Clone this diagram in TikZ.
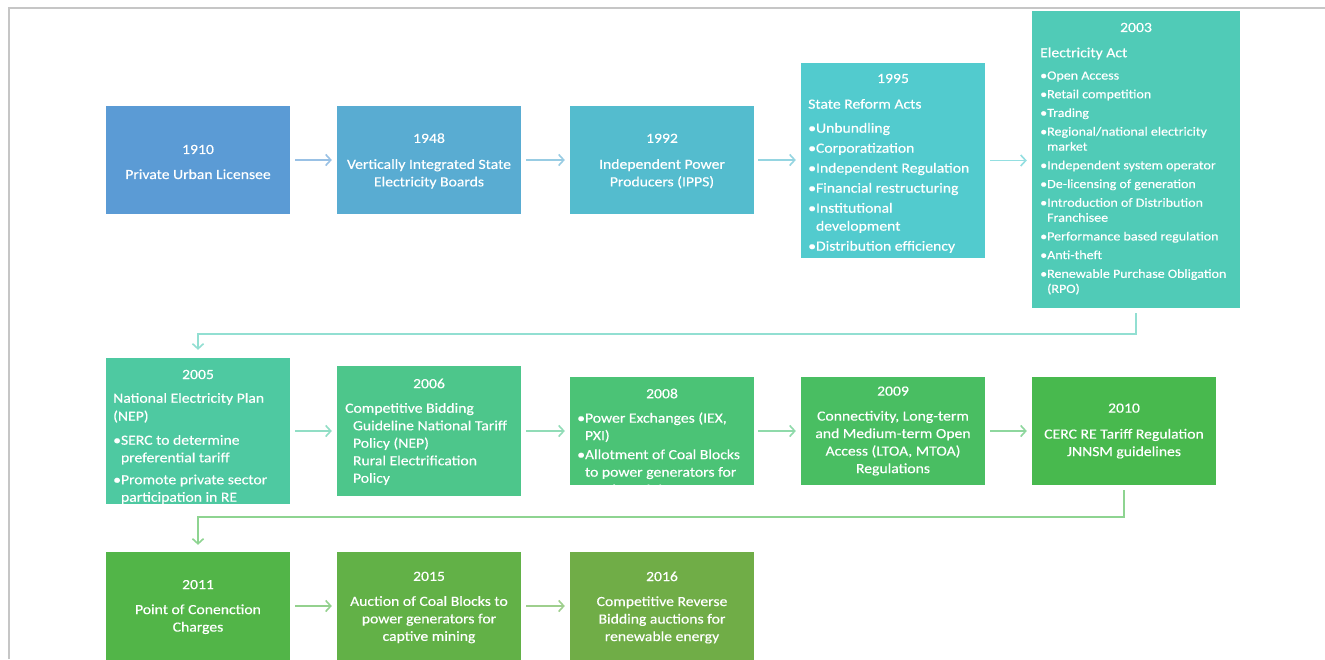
\documentclass[tikz,border=0pt]{standalone}
\usepackage{fontspec}
\setmainfont{Carlito}[FakeStretch=1.12,FakeBold=0.3]
\usetikzlibrary{arrows.meta}
\definecolor{c1910}{RGB}{91,155,213}
\definecolor{c1948}{RGB}{89,172,210}
\definecolor{c1992}{RGB}{84,188,206}
\definecolor{c1995}{RGB}{82,203,206}
\definecolor{c2003}{RGB}{80,203,183}
\definecolor{c2005}{RGB}{78,201,161}
\definecolor{c2006}{RGB}{77,198,139}
\definecolor{c2008}{RGB}{75,195,118}
\definecolor{c2009}{RGB}{73,190,98}
\definecolor{c2010}{RGB}{72,185,78}
\definecolor{c2011}{RGB}{82,181,72}
\definecolor{c2015}{RGB}{98,177,71}
\definecolor{c2016}{RGB}{112,173,71}
\definecolor{framec}{RGB}{198,198,198}
\begin{document}
\begin{tikzpicture}[x=1pt,y=-1pt,
  box/.style={rectangle, inner sep=0pt, minimum width=184pt, minimum height=108pt, fill=#1},
  ttl/.style={text=white, font=\fontsize{14}{17.5}\selectfont, align=center, inner sep=0pt, yshift=-1.5pt},
  body/.style={text=white, font=\fontsize{14}{17.5}\selectfont, align=left, inner sep=0pt, anchor=west, yshift=-1.5pt},
  arr/.style={draw=#1!62!white, line width=1.6pt, -{Straight Barb[length=5pt,width=11pt,line width=1.6pt]}},
]
\useasboundingbox (0,0) rectangle (1325,659);
\fill[white] (0,0) rectangle (1325,659);
\draw[framec, line width=2pt] (9,659) -- (9,8) -- (1325,8);

% row 1
\node[box=c1910] (b1910) at (198,160) {};
\node[box=c1948] (b1948) at (429,160) {};
\node[box=c1992] (b1992) at (662,160) {};
\node[box=c1995, minimum height=195pt] (b1995) at (893,160.5) {};
\node[box=c2003, minimum width=208pt, minimum height=297pt] (b2003) at (1136,159.5) {};
% row 2
\node[box=c2005, minimum height=146pt] (b2005) at (198,431) {};
\node[box=c2006, minimum height=130pt] (b2006) at (429,431) {};
\node[box=c2008] (b2008) at (662,431) {};
\node[box=c2009] (b2009) at (893,431) {};
\node[box=c2010] (b2010) at (1124,431) {};
% row 3
\node[box=c2011] (b2011) at (198,606) {};
\node[box=c2015] (b2015) at (429,606) {};
\node[box=c2016] (b2016) at (662,606) {};

% texts row 1
\node[ttl] (t1910) at (198,160.5) {1910\\[7.5pt]Private Urban Licensee};
\node[ttl] (t1948) at (429,159.5) {1948\\[8.5pt]Vertically Integrated State\\Electricity Boards};
\node[ttl] (t1992) at (662,159.5) {1992\\[8.5pt]Independent Power\\Producers (IPPS)};
\node[ttl] (y1995) at (893,77) {1995};
\node[body] (d1995) at (808,174.5) {State Reform Acts\\[6.5pt]•Unbundling\\[2.5pt]•Corporatization\\[2.5pt]•Independent Regulation\\[2.5pt]•Financial restructuring\\[2.5pt]•Institutional\\[0.5pt]\phantom{•}development\\[2.5pt]•Distribution efficiency};
\node[ttl] (y2003) at (1136,26) {2003};
\node[body] (h2003) at (1040,52) {Electricity Act};
\node[body, font=\fontsize{12.5}{15}\selectfont] (d2003) at (1040,181.5) {•Open Access\\[3.7pt]•Retail competition\\[3.7pt]•Trading\\[3.7pt]•Regional/national electricity\\\phantom{•}market\\[3.7pt]•Independent system operator\\[3.7pt]•De-licensing of generation\\[3.7pt]•Introduction of Distribution\\\phantom{•}Franchisee\\[3.7pt]•Performance based regulation\\[3.7pt]•Anti-theft\\[3.7pt]•Renewable Purchase Obligation\\\phantom{•}(RPO)};

% texts row 2
\node[ttl] (y2005) at (198,373) {2005};
\begin{scope}
\clip (b2005.south west) rectangle (b2005.north east);
\node[body] (d2005) at (113,447) {National Electricity Plan\\[0.5pt](NEP)\\[6.5pt]•SERC to determine\\\phantom{•}preferential tariff\\[4.5pt]•Promote private sector\\\phantom{•}participation in RE};
\end{scope}
\node[ttl] (y2006) at (429,382) {2006};
\node[body] (d2006) at (345,442.5) {Competitive Bidding\\\phantom{•}Guideline National Tariff\\\phantom{•}Policy (NEP)\\\phantom{•}Rural Electrification\\\phantom{•}Policy};
\node[ttl] (y2008) at (662,392) {2008};
\begin{scope}
\clip (b2008.south west) rectangle (b2008.north east);
\node[body] (d2008) at (577,453) {•Power Exchanges (IEX,\\\phantom{•}PXI)\\[1.5pt]•Allotment of Coal Blocks\\\phantom{•}to power generators for\\\phantom{•}captive mining};
\end{scope}
\node[ttl] (t2009) at (893,429.5) {2009\\[7.5pt]Connectivity, Long-term\\and Medium-term Open\\Access (LTOA, MTOA)\\Regulations};
\node[ttl] (t2010) at (1124,429.5) {2010\\[8.5pt]CERC RE Tariff Regulation\\JNNSM guidelines};

% texts row 3
\node[ttl] (t2011) at (198,605.5) {2011\\[7.5pt]Point of Conenction\\Charges};
\node[ttl] (t2015) at (429,606) {2015\\[7.5pt]Auction of Coal Blocks to\\power generators for\\captive mining};
\node[ttl] (t2016) at (662,606) {2016\\[7.5pt]Competitive Reverse\\Bidding auctions for\\renewable energy};

% arrows
\draw[arr=c1910] ([xshift=5pt]b1910.east) -- ([xshift=-5pt]b1948.west);
\draw[arr=c1948] ([xshift=5pt]b1948.east) -- ([xshift=-5pt]b1992.west);
\draw[arr=c1992] ([xshift=4pt]b1992.east) -- ([xshift=-5pt]b1992.east -| b1995.west);
\draw[arr=c1995] ([xshift=5pt]b1995.east) -- ([xshift=-5pt]b1995.east -| b2003.west);
\draw[arr=c2003] ([yshift=-5pt]b2003.south) -- ++(0,21) -| ([yshift=8pt]b2005.north);
\draw[arr=c2005] ([xshift=5pt]b2005.east) -- ([xshift=-5pt]b2006.west);
\draw[arr=c2006] ([xshift=5pt]b2006.east) -- ([xshift=-5pt]b2008.west);
\draw[arr=c2008] ([xshift=4pt]b2008.east) -- ([xshift=-5pt]b2009.west);
\draw[arr=c2009] ([xshift=5pt]b2009.east) -- ([xshift=-5pt]b2010.west);
\draw[arr=c2010] ([yshift=-5pt]b2010.south) -- ++(0,27) -| ([yshift=7pt]b2011.north);
\draw[arr=c2011] ([xshift=5pt]b2011.east) -- ([xshift=-5pt]b2015.west);
\draw[arr=c2015] ([xshift=5pt]b2015.east) -- ([xshift=-5pt]b2016.west);
\end{tikzpicture}
\end{document}
